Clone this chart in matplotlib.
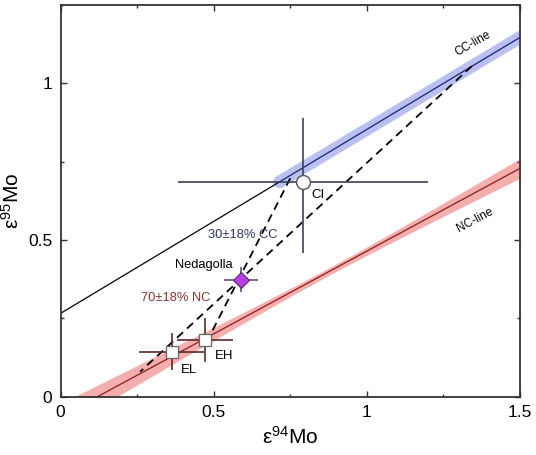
import matplotlib
matplotlib.use('Agg')
import matplotlib.pyplot as plt
import numpy as np
from matplotlib.ticker import MultipleLocator

plt.rcParams['font.family'] = ['Liberation Sans', 'DejaVu Sans']
plt.rcParams['mathtext.default'] = 'regular'

# reference lines (y = a + b*x)
cc_a, cc_b = 0.266, 0.587
nc_a, nc_b = -0.0634, 0.528
cc_band_start = 0.715
cc_band_half = 0.027
# NC confidence band: narrow in the middle, wider at the ends
nc_band_min = 0.012
nc_band_k = 0.046
nc_band_mid = 0.87

# samples
ci_x, ci_y = 0.791, 0.685
ci_xerr = 0.409
ci_yerr = [[0.227], [0.204]]

ned_x, ned_y = 0.589, 0.374
ned_xerr, ned_yerr = 0.056, 0.040

ee_names = ['EL', 'EH']
ee_x = [0.363, 0.472]
ee_y = [0.144, 0.181]
ee_xerr = [0.107, 0.091]
ee_yerr = [0.058, 0.069]

# mixing envelopes (dashed)
mix1_x = [0.750, 0.487]
mix1_y = [0.697, 0.194]
mix2_x = [1.343, 0.260]
mix2_y = [1.055, 0.080]

fig = plt.figure(figsize=(5.36, 4.55), dpi=100)
ax = fig.add_axes([0.113, 0.128, 0.857, 0.861])

xs = np.linspace(-0.1, 1.6, 300)

# NC line with band
nc_y = nc_a + nc_b * xs
nc_h = np.sqrt(nc_band_min**2 + (nc_band_k * (xs - nc_band_mid))**2)
ax.fill_between(xs, nc_y - nc_h, nc_y + nc_h, color='#f28c8c', alpha=0.7, lw=0, zorder=1)
ax.plot(xs, nc_y, color='#8b1c1c', lw=0.9, zorder=2)

# CC line: black part + blue band part
xb = np.array([0, cc_band_start])
ax.plot(xb, cc_a + cc_b * xb, color='black', lw=0.9, zorder=2)
xc = np.array([cc_band_start, 1.7])
ax.plot(xc, cc_a + cc_b * xc, color='#8d97e6', lw=9.0, alpha=0.6,
        solid_capstyle='round', zorder=1)
ax.plot(xc, cc_a + cc_b * xc, color='#1c237a', lw=0.9, zorder=2)

# dashed mixing lines
ax.plot(mix1_x, mix1_y, color='black', lw=1.3, ls=(0, (4.5, 3.0)), zorder=3)
ax.plot(mix2_x, mix2_y, color='black', lw=1.3, ls=(0, (4.5, 3.0)), zorder=3)

# CI
ax.errorbar(ci_x, ci_y, xerr=ci_xerr, yerr=ci_yerr, fmt='none',
            ecolor='#3c3f5a', elinewidth=1.2, capsize=0, zorder=4)
ax.plot(ci_x, ci_y, 'o', ms=10, mfc='white', mec='#555555', mew=1.0, zorder=5)

# Nedagolla
ax.errorbar(ned_x, ned_y, xerr=ned_xerr, yerr=ned_yerr, fmt='none',
            ecolor='#6c4a78', elinewidth=1.2, capsize=0, zorder=4)
ax.plot(ned_x, ned_y, 'D', ms=8, mfc='#b53fe0', mec='#5a2a6a', mew=0.8, zorder=5)

# enstatite chondrites
ax.errorbar(ee_x, ee_y, xerr=ee_xerr, yerr=ee_yerr, fmt='none',
            ecolor='#5a2a2a', elinewidth=1.2, capsize=0, zorder=4)
ax.plot(ee_x, ee_y, 's', ms=8, mfc='white', mec='#666666', mew=0.9, zorder=5)

# labels
ax.text(0.818, 0.645, 'CI', fontsize=9.5, va='center', ha='left')
ax.text(0.594, 0.516, '30±18% CC', fontsize=9.3, color='#2e3068', ha='center', va='center')
ax.text(0.467, 0.419, 'Nedagolla', fontsize=9.3, ha='center', va='center')
ax.text(0.377, 0.316, '70±18% NC', fontsize=9.3, color='#8a3434', ha='center', va='center')
ax.text(0.393, 0.085, 'EL', fontsize=9.5, ha='left', va='center')
ax.text(0.503, 0.131, 'EH', fontsize=9.5, ha='left', va='center')
ax.text(1.347, 1.128, 'CC-line', fontsize=8.5, rotation=30, ha='center', va='center')
ax.text(1.352, 0.564, 'NC-line', fontsize=8.5, rotation=28, ha='center', va='center')

ax.set_xlim(0, 1.5)
ax.set_ylim(0, 1.25)
ax.xaxis.set_minor_locator(MultipleLocator(0.25))
ax.yaxis.set_minor_locator(MultipleLocator(0.25))
ax.set_xticks([0, 0.5, 1, 1.5])
ax.set_xticklabels(['0', '0.5', '1', '1.5'])
ax.set_yticks([0, 0.5, 1])
ax.set_yticklabels(['0', '0.5', '1'])
ax.tick_params(which='both', direction='in', top=True, right=True, labelsize=12.5,
               width=1.0, color='#333333')
ax.tick_params(which='major', length=4, pad=6)
ax.tick_params(which='minor', length=2)
for s in ax.spines.values():
    s.set_linewidth(1.3)
    s.set_color('#333333')

ax.set_xlabel('ε$^{94}$Mo', fontsize=15, labelpad=4)
ax.set_ylabel('ε$^{95}$Mo', fontsize=15, labelpad=4)

fig.savefig('out.png', dpi=100)
